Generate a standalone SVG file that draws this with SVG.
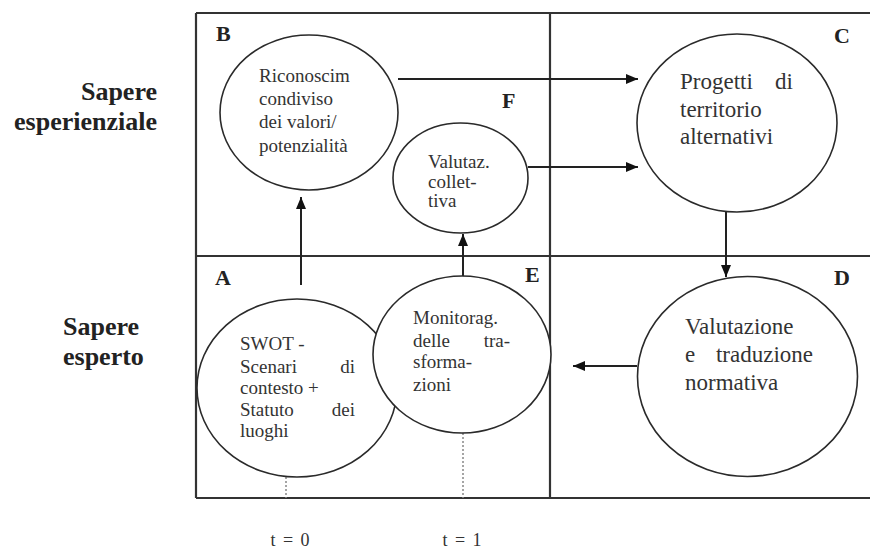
<svg xmlns="http://www.w3.org/2000/svg" width="870" height="552" viewBox="0 0 870 552">
<style>
.frame{fill:none;stroke:#333;stroke-width:2.2}
.node{fill:#fff;stroke:#2a2a2a;stroke-width:1.6}
text{font-family:'Liberation Serif','Times New Roman','DejaVu Serif',serif}
.t{font-size:19px;fill:#333}
.big{font-size:23px}
.lbl{font-size:22px;font-weight:bold;fill:#222}
.side{font-size:26px;font-weight:bold;fill:#222}
.con{stroke:#222;stroke-width:2;fill:none}
.dot{stroke:#888;stroke-width:1.5;stroke-dasharray:2 2;fill:none}
.time{font-size:18px;fill:#333}
</style>
<defs>
<marker id="ah" markerWidth="12" markerHeight="10" refX="12" refY="5" orient="auto" markerUnits="userSpaceOnUse">
<path d="M0,0 L12,5 L0,10 Z" fill="#111"/>
</marker>
</defs>
<rect width="870" height="552" fill="#fff"/>
<g id="frame">
<path class="frame" d="M196,13 H870 M196,498 H870 M196,13 V498 M550,13 V498 M196,256 H870"/>
</g>
<g id="quadrant-labels">
<text class="lbl" x="216" y="41">B</text>
<text class="lbl" x="834" y="43">C</text>
<text class="lbl" x="502" y="108">F</text>
<text class="lbl" x="215" y="285">A</text>
<text class="lbl" x="525" y="282">E</text>
<text class="lbl" x="834" y="285">D</text>
</g>
<g id="side-labels">
<text class="side" x="157" y="100" text-anchor="end">Sapere</text>
<text class="side" x="157" y="130" text-anchor="end">esperienziale</text>
<text class="side" x="63" y="335">Sapere</text>
<text class="side" x="63" y="365">esperto</text>
</g>
<g id="connectors">
<line class="con" x1="398" y1="79" x2="638" y2="79" marker-end="url(#ah)"/>
<line class="con" x1="528" y1="167" x2="638" y2="167" marker-end="url(#ah)"/>
<line class="con" x1="726" y1="212" x2="726" y2="277" marker-end="url(#ah)"/>
<line class="con" x1="637" y1="366" x2="573" y2="366" marker-end="url(#ah)"/>
<line class="con" x1="301" y1="285" x2="301" y2="197" marker-end="url(#ah)"/>
<line class="con" x1="463" y1="277" x2="463" y2="234" marker-end="url(#ah)"/>
<line class="dot" x1="286" y1="477" x2="286" y2="498"/>
<line class="dot" x1="463" y1="433" x2="463" y2="498"/>
</g>
<g id="node-B">
<ellipse class="node" cx="309" cy="112.5" rx="89" ry="77.5"/>
<text class="t" x="259" y="82">Riconoscim</text>
<text class="t" x="259" y="105">condiviso</text>
<text class="t" x="259" y="128">dei valori/</text>
<text class="t" x="259" y="152">potenzialità</text>
</g>
<g id="node-F">
<ellipse class="node" cx="460.5" cy="178" rx="67.5" ry="55"/>
<text class="t" x="428" y="168">Valutaz.</text>
<text class="t" x="428" y="188">collet-</text>
<text class="t" x="428" y="207">tiva</text>
</g>
<g id="node-C">
<ellipse class="node" cx="737" cy="123" rx="100" ry="89"/>
<text class="t big" x="680" y="89">Progetti</text>
<text class="t big" x="793" y="89" text-anchor="end">di</text>
<text class="t big" x="680" y="117">territorio</text>
<text class="t big" x="680" y="144">alternativi</text>
</g>
<g id="node-A">
<ellipse class="node" cx="297" cy="388" rx="100" ry="89"/>
<text class="t" x="240" y="350">SWOT -</text>
<text class="t" x="240" y="373">Scenari</text>
<text class="t" x="355" y="373" text-anchor="end">di</text>
<text class="t" x="240" y="394">contesto +</text>
<text class="t" x="240" y="416">Statuto</text>
<text class="t" x="355" y="416" text-anchor="end">dei</text>
<text class="t" x="240" y="437">luoghi</text>
</g>
<g id="node-E">
<ellipse class="node" cx="462" cy="354.5" rx="89" ry="78.5"/>
<text class="t" x="413" y="324">Monitorag.</text>
<text class="t" x="413" y="347">delle</text>
<text class="t" x="510" y="347" text-anchor="end">tra-</text>
<text class="t" x="413" y="368">sforma-</text>
<text class="t" x="413" y="391">zioni</text>
</g>
<g id="node-D">
<ellipse class="node" cx="747.5" cy="376.5" rx="110" ry="100"/>
<text class="t big" x="685" y="334">Valutazione</text>
<text class="t big" x="685" y="362">e</text>
<text class="t big" x="813" y="362" text-anchor="end">traduzione</text>
<text class="t big" x="685" y="390">normativa</text>
</g>
<g id="time-labels">
<text class="time" x="290" y="546" text-anchor="middle" word-spacing="3">t = 0</text>
<text class="time" x="462" y="546" text-anchor="middle" word-spacing="3">t = 1</text>
</g>
</svg>
